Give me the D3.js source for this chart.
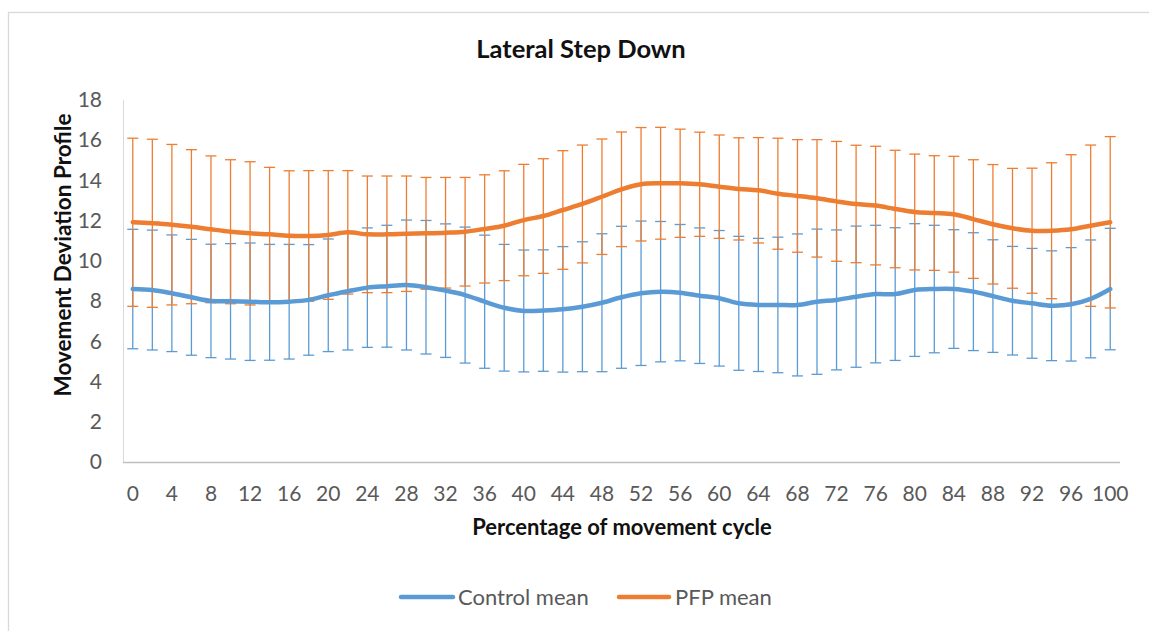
<!DOCTYPE html>
<html>
<head>
<meta charset="utf-8">
<script src="https://cdn.jsdelivr.net/npm/d3@7"></script>
<style>
  html, body { margin: 0; padding: 0; background: #fff; }
  svg { display: block; }
  text { font-family: Lato, "Liberation Sans", sans-serif; }
</style>
</head>
<body>
<svg id="chart" width="1149" height="631"></svg>
<script>
// Percentage of movement cycle (categories)
const cycle = [0, 2, 4, 6, 8, 10, 12, 14, 16, 18, 20, 22, 24, 26, 28, 30, 32, 34, 36, 38, 40,
  42, 44, 46, 48, 50, 52, 54, 56, 58, 60, 62, 64, 66, 68, 70, 72, 74, 76, 78, 80,
  82, 84, 86, 88, 90, 92, 94, 96, 98, 100];

// Control group: mean and standard deviation
const controlMean = [8.60, 8.55, 8.39, 8.19, 8.01, 7.99, 7.97, 7.94, 7.97, 8.06,
  8.29, 8.49, 8.67, 8.74, 8.80, 8.69, 8.52, 8.30, 7.97, 7.67,
  7.51, 7.53, 7.59, 7.72, 7.92, 8.19, 8.39, 8.47, 8.42, 8.27,
  8.14, 7.89, 7.81, 7.81, 7.81, 7.97, 8.06, 8.22, 8.35, 8.35,
  8.55, 8.60, 8.60, 8.47, 8.25, 8.02, 7.89, 7.77, 7.84, 8.11, 8.60];
const controlSD = [2.97, 2.98, 2.90, 2.88, 2.82, 2.87, 2.92, 2.88, 2.85, 2.75,
  2.80, 2.92, 2.97, 3.03, 3.23, 3.32, 3.32, 3.38, 3.31, 3.15,
  3.03, 3.02, 3.12, 3.23, 3.43, 3.53, 3.59, 3.49, 3.39, 3.37,
  3.37, 3.33, 3.31, 3.37, 3.53, 3.61, 3.48, 3.51, 3.42, 3.30,
  3.30, 3.17, 2.95, 2.93, 2.80, 2.70, 2.73, 2.73, 2.82, 2.93, 3.02];

// PFP group: mean and standard deviation
const pfpMean = [11.92, 11.87, 11.80, 11.70, 11.57, 11.45, 11.37, 11.32, 11.25, 11.24,
  11.29, 11.42, 11.32, 11.32, 11.35, 11.37, 11.40, 11.45, 11.59, 11.75,
  12.03, 12.23, 12.53, 12.83, 13.19, 13.56, 13.81, 13.86, 13.86, 13.81,
  13.69, 13.58, 13.51, 13.34, 13.23, 13.11, 12.96, 12.83, 12.75, 12.58,
  12.43, 12.38, 12.32, 12.08, 11.82, 11.62, 11.50, 11.50, 11.57, 11.75, 11.92];
const pfpSD = [4.18, 4.18, 3.99, 3.83, 3.65, 3.58, 3.56, 3.33, 3.23, 3.25,
  3.20, 3.07, 2.90, 2.90, 2.87, 2.78, 2.75, 2.70, 2.69, 2.73,
  2.77, 2.85, 2.95, 2.93, 2.87, 2.85, 2.82, 2.78, 2.69, 2.59,
  2.57, 2.54, 2.62, 2.76, 2.80, 2.92, 2.98, 2.92, 2.95, 2.92,
  2.88, 2.85, 2.88, 2.95, 2.97, 2.98, 3.11, 3.38, 3.71, 4.01, 4.26];

const yTicks = [0, 2, 4, 6, 8, 10, 12, 14, 16, 18];
const xTickLabels = [0, 4, 8, 12, 16, 20, 24, 28, 32, 36, 40, 44, 48, 52, 56, 60, 64, 68, 72, 76, 80, 84, 88, 92, 96, 100];

const series = [
  { name: "Control mean", mean: controlMean, sd: controlSD, color: "#5B9BD5" },
  { name: "PFP mean", mean: pfpMean, sd: pfpSD, color: "#ED7D31" }
];

const svg = d3.select("#chart");

// outer chart frame
svg.append("rect")
  .attr("x", 8.5).attr("y", 12.5)
  .attr("width", 1200).attr("height", 700)
  .attr("fill", "#fff").attr("stroke", "#d9d9d9").attr("stroke-width", 1.3);

const plot = { left: 123, right: 1120, top: 100, bottom: 462 };

const x = d3.scaleBand().domain(cycle).range([plot.left, plot.right]).paddingInner(0).paddingOuter(0);
const cx = d => x(d) + x.bandwidth() / 2;
const y = d3.scaleLinear().domain([0, 18]).range([plot.bottom, plot.top]);

// vertical axis line
svg.append("line")
  .attr("x1", plot.left + 0.5).attr("x2", plot.left + 0.5)
  .attr("y1", plot.top).attr("y2", plot.bottom)
  .attr("stroke", "#d9d9d9").attr("stroke-width", 1);

// y axis labels
const yAxis = d3.axisLeft(y).tickValues(yTicks).tickSize(0).tickPadding(21).tickFormat(d3.format("d"));
const gy = svg.append("g").attr("transform", `translate(${plot.left},0)`).call(yAxis);
gy.select(".domain").remove();
gy.selectAll("text").attr("fill", "#595959").style("font-size", "21px").attr("font-family", "Lato");

// x axis
const xAxis = d3.axisBottom(x).tickValues(xTickLabels).tickSize(0).tickPadding(24);
const gx = svg.append("g").attr("transform", `translate(0,${plot.bottom})`).call(xAxis);
gx.select(".domain").attr("stroke", "#bfbfbf").attr("stroke-width", 1.3)
  .attr("d", `M${plot.left},0.5H${plot.right}`);
gx.selectAll("text").attr("fill", "#595959").style("font-size", "21px").attr("font-family", "Lato");

// error bars
const capHalf = 5.5;
series.forEach(s => {
  const g = svg.append("g").attr("stroke", s.color).attr("stroke-width", 1.3).attr("fill", "none");
  cycle.forEach((c, i) => {
    const px = cx(c);
    const hi = y(s.mean[i] + s.sd[i]);
    const lo = y(s.mean[i] - s.sd[i]);
    g.append("line").attr("x1", px).attr("x2", px).attr("y1", hi).attr("y2", lo);
    g.append("line").attr("x1", px - capHalf).attr("x2", px + capHalf).attr("y1", hi).attr("y2", hi);
    g.append("line").attr("x1", px - capHalf).attr("x2", px + capHalf).attr("y1", lo).attr("y2", lo);
  });
});

// smoothed mean lines
const line = d3.line()
  .x((d, i) => cx(cycle[i]))
  .y(d => y(d))
  .curve(d3.curveCatmullRom.alpha(0.5));

series.forEach(s => {
  svg.append("path")
    .datum(s.mean)
    .attr("d", line)
    .attr("fill", "none")
    .attr("stroke", s.color)
    .attr("stroke-width", 4.5)
    .attr("stroke-linejoin", "round")
    .attr("stroke-linecap", "round");
});

// titles
svg.append("text")
  .attr("x", 581).attr("y", 58)
  .attr("text-anchor", "middle")
  .attr("fill", "#111")
  .style("font-size", "25.5px").style("font-weight", "bold")
  .text("Lateral Step Down");

svg.append("text")
  .attr("x", 622).attr("y", 535)
  .attr("text-anchor", "middle")
  .attr("fill", "#111")
  .style("font-size", "22px").style("font-weight", "bold")
  .text("Percentage of movement cycle");

svg.append("text")
  .attr("transform", "translate(71,255) rotate(-90)")
  .attr("text-anchor", "middle")
  .attr("fill", "#111")
  .style("font-size", "22.5px").style("font-weight", "bold")
  .text("Movement Deviation Profile");

// legend
const legendItems = [
  { s: series[0], x0: 401, x1: 453, tx: 458 },
  { s: series[1], x0: 619, x1: 669, tx: 675 }
];
legendItems.forEach(it => {
  svg.append("line")
    .attr("x1", it.x0).attr("x2", it.x1).attr("y1", 597).attr("y2", 597)
    .attr("stroke", it.s.color).attr("stroke-width", 4.5).attr("stroke-linecap", "round");
  svg.append("text")
    .attr("x", it.tx).attr("y", 605)
    .attr("fill", "#595959")
    .style("font-size", "22px")
    .text(it.s.name);
});
</script>
</body>
</html>
